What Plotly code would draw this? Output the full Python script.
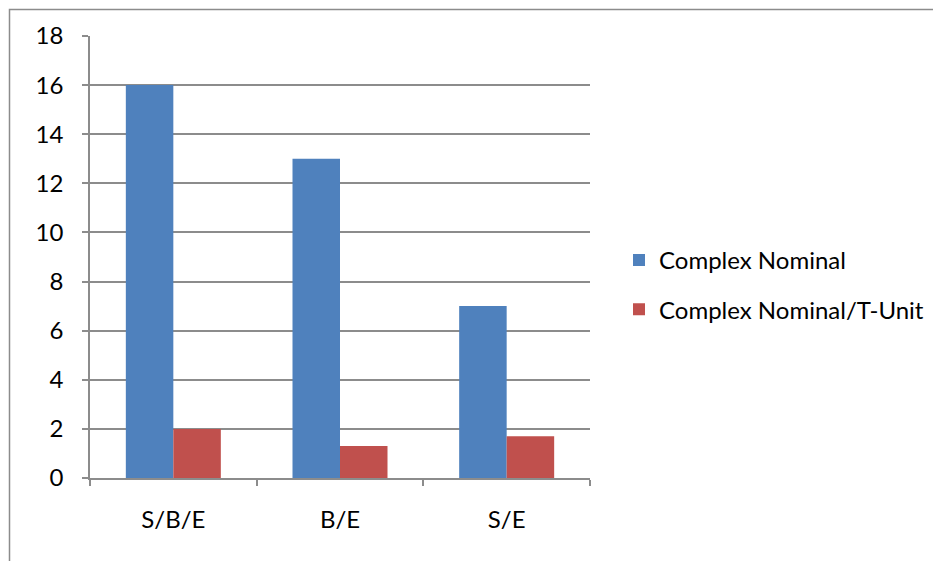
import plotly.graph_objects as go

categories = ["S/B/E", "B/E", "S/E"]
complex_nominal = [16, 13, 7]
complex_nominal_tunit = [2.0, 1.3, 1.7]
y_ticks = [0, 2, 4, 6, 8, 10, 12, 14, 16, 18]

FONT = "Lato, Carlito, Calibri, sans-serif"
GRID = "#8c8c8c"

fig = go.Figure()
fig.add_trace(go.Bar(name="Complex Nominal", x=categories, y=complex_nominal,
                     marker=dict(color="#4F81BD", line=dict(width=0)), legendgroup="a"))
fig.add_trace(go.Bar(name="Complex Nominal/T-Unit", x=categories, y=complex_nominal_tunit,
                     marker=dict(color="#C0504D", line=dict(width=0)), legendgroup="b"))

fig.update_layout(
    width=941, height=561,
    margin=dict(l=82, r=359, t=28, b=91),
    paper_bgcolor="white", plot_bgcolor="white",
    barmode="group", bargap=0.43, bargroupgap=0,
    font=dict(family=FONT, size=24, color="#000000"),
    legend=dict(x=1.058, y=0.437, xanchor="left", yanchor="middle",
                font=dict(family=FONT, size=24), tracegroupgap=15,
                itemwidth=30, bgcolor="rgba(0,0,0,0)"),
    xaxis=dict(showgrid=False, showline=True, linecolor=GRID, linewidth=1.5,
               ticks="outside", tickson="boundaries", ticklen=6, tickcolor=GRID,
               tickwidth=1.5, ticklabelstandoff=19,
               tickfont=dict(family=FONT, size=24)),
    yaxis=dict(range=[0, 18], tickvals=y_ticks, showgrid=True, gridcolor=GRID,
               gridwidth=1.5, showline=True, linecolor=GRID, linewidth=1.5,
               ticks="outside", ticklen=6, tickcolor=GRID, tickwidth=1.5,
               ticklabelstandoff=14, zeroline=False,
               tickfont=dict(family=FONT, size=24)),
    shapes=[dict(type="rect", xref="paper", yref="paper",
                 x0=(9.5 - 90) / 500, x1=(960 - 90) / 500,
                 y0=(478 - 580) / 442, y1=(478 - 9.5) / 442,
                 line=dict(color=GRID, width=1.5), layer="below")],
)

fig.write_html("out.html")
